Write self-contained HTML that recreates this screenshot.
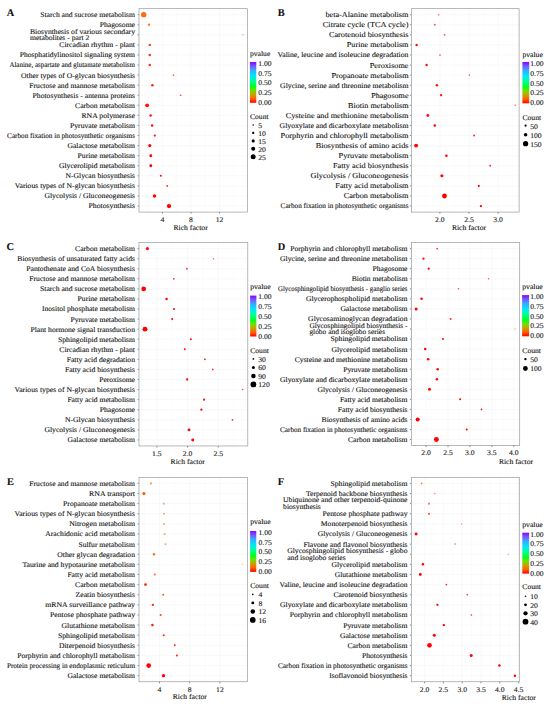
<!DOCTYPE html><html><head><meta charset="utf-8"><style>html,body{margin:0;padding:0;background:#fff;}svg{display:block}text{text-rendering:geometricPrecision;font-family:"Liberation Serif",serif;fill:#111;stroke:#111;stroke-width:0.1px}</style></head><body>
<svg width="550" height="706" viewBox="0 0 550 706">
<defs><linearGradient id="cbar" x1="0" y1="1" x2="0" y2="0"><stop offset="0" stop-color="#ff0000"/><stop offset="0.1" stop-color="#ff6000"/><stop offset="0.2" stop-color="#c8a000"/><stop offset="0.3" stop-color="#70e000"/><stop offset="0.4" stop-color="#00ff20"/><stop offset="0.53" stop-color="#00ff98"/><stop offset="0.66" stop-color="#00e8f8"/><stop offset="0.8" stop-color="#38a8ff"/><stop offset="0.91" stop-color="#7a50ff"/><stop offset="1" stop-color="#8800ff"/></linearGradient></defs>
<rect width="550" height="706" fill="#fff"/>
<text x="6.8" y="16.1" font-size="10.4" font-weight="bold" fill="#000">A</text>
<g stroke="#f2f2f2" stroke-width="0.5"><line x1="139.0" y1="14.70" x2="247.5" y2="14.70"/><line x1="139.0" y1="24.77" x2="247.5" y2="24.77"/><line x1="139.0" y1="34.84" x2="247.5" y2="34.84"/><line x1="139.0" y1="44.91" x2="247.5" y2="44.91"/><line x1="139.0" y1="54.98" x2="247.5" y2="54.98"/><line x1="139.0" y1="65.05" x2="247.5" y2="65.05"/><line x1="139.0" y1="75.12" x2="247.5" y2="75.12"/><line x1="139.0" y1="85.19" x2="247.5" y2="85.19"/><line x1="139.0" y1="95.26" x2="247.5" y2="95.26"/><line x1="139.0" y1="105.33" x2="247.5" y2="105.33"/><line x1="139.0" y1="115.40" x2="247.5" y2="115.40"/><line x1="139.0" y1="125.47" x2="247.5" y2="125.47"/><line x1="139.0" y1="135.54" x2="247.5" y2="135.54"/><line x1="139.0" y1="145.61" x2="247.5" y2="145.61"/><line x1="139.0" y1="155.68" x2="247.5" y2="155.68"/><line x1="139.0" y1="165.75" x2="247.5" y2="165.75"/><line x1="139.0" y1="175.82" x2="247.5" y2="175.82"/><line x1="139.0" y1="185.89" x2="247.5" y2="185.89"/><line x1="139.0" y1="195.96" x2="247.5" y2="195.96"/><line x1="139.0" y1="206.03" x2="247.5" y2="206.03"/><line x1="162.4" y1="8.66" x2="162.4" y2="212.07"/><line x1="191.0" y1="8.66" x2="191.0" y2="212.07"/><line x1="219.6" y1="8.66" x2="219.6" y2="212.07"/></g>
<g stroke="#f8f8f8" stroke-width="0.4"><line x1="148.1" y1="8.66" x2="148.1" y2="212.07"/><line x1="176.7" y1="8.66" x2="176.7" y2="212.07"/><line x1="205.3" y1="8.66" x2="205.3" y2="212.07"/><line x1="233.9" y1="8.66" x2="233.9" y2="212.07"/></g>
<circle cx="143.7" cy="14.70" r="2.65" fill="#ff6a10"/>
<circle cx="149.0" cy="24.77" r="1.15" fill="#ff7a10"/>
<circle cx="242.8" cy="34.84" r="0.95" fill="#ffc0a0"/>
<circle cx="149.8" cy="44.91" r="1.20" fill="#ff3a10"/>
<circle cx="149.8" cy="54.98" r="1.20" fill="#ff2a10"/>
<circle cx="149.8" cy="65.05" r="1.20" fill="#ff2a10"/>
<circle cx="173.5" cy="75.12" r="0.85" fill="#ff5030"/>
<circle cx="152.4" cy="85.19" r="1.25" fill="#ff2010"/>
<circle cx="180.6" cy="95.26" r="0.85" fill="#ff5030"/>
<circle cx="147.1" cy="105.33" r="1.95" fill="#ff1010"/>
<circle cx="150.6" cy="115.40" r="1.25" fill="#ff1010"/>
<circle cx="152.1" cy="125.47" r="1.25" fill="#ff1010"/>
<circle cx="154.8" cy="135.54" r="1.10" fill="#ff1010"/>
<circle cx="149.8" cy="145.61" r="1.55" fill="#ff0000"/>
<circle cx="150.8" cy="155.68" r="1.45" fill="#ff0000"/>
<circle cx="150.8" cy="165.75" r="1.45" fill="#ff0000"/>
<circle cx="160.8" cy="175.82" r="1.00" fill="#ff1010"/>
<circle cx="167.2" cy="185.89" r="0.85" fill="#ff1010"/>
<circle cx="154.5" cy="195.96" r="1.70" fill="#ff0000"/>
<circle cx="169.0" cy="206.03" r="2.15" fill="#ff0000"/>
<rect x="139.0" y="8.66" width="108.50" height="203.41" fill="none" stroke="#9a9a9a" stroke-width="0.7"/>
<g stroke="#444" stroke-width="0.6"><line x1="137.50" y1="14.70" x2="138.70" y2="14.70"/><line x1="137.50" y1="24.77" x2="138.70" y2="24.77"/><line x1="137.50" y1="34.84" x2="138.70" y2="34.84"/><line x1="137.50" y1="44.91" x2="138.70" y2="44.91"/><line x1="137.50" y1="54.98" x2="138.70" y2="54.98"/><line x1="137.50" y1="65.05" x2="138.70" y2="65.05"/><line x1="137.50" y1="75.12" x2="138.70" y2="75.12"/><line x1="137.50" y1="85.19" x2="138.70" y2="85.19"/><line x1="137.50" y1="95.26" x2="138.70" y2="95.26"/><line x1="137.50" y1="105.33" x2="138.70" y2="105.33"/><line x1="137.50" y1="115.40" x2="138.70" y2="115.40"/><line x1="137.50" y1="125.47" x2="138.70" y2="125.47"/><line x1="137.50" y1="135.54" x2="138.70" y2="135.54"/><line x1="137.50" y1="145.61" x2="138.70" y2="145.61"/><line x1="137.50" y1="155.68" x2="138.70" y2="155.68"/><line x1="137.50" y1="165.75" x2="138.70" y2="165.75"/><line x1="137.50" y1="175.82" x2="138.70" y2="175.82"/><line x1="137.50" y1="185.89" x2="138.70" y2="185.89"/><line x1="137.50" y1="195.96" x2="138.70" y2="195.96"/><line x1="137.50" y1="206.03" x2="138.70" y2="206.03"/><line x1="162.4" y1="212.07" x2="162.4" y2="213.67"/><line x1="191.0" y1="212.07" x2="191.0" y2="213.67"/><line x1="219.6" y1="212.07" x2="219.6" y2="213.67"/></g>
<text x="40.20" y="17.12" font-size="7.268" text-anchor="start" textLength="94.80" lengthAdjust="spacingAndGlyphs">Starch and sucrose metabolism</text>
<text x="99.70" y="27.19" font-size="7.268" text-anchor="start" textLength="35.30" lengthAdjust="spacingAndGlyphs">Phagosome</text>
<text x="30.00" y="33.61" font-size="7.268" text-anchor="start" textLength="105.00" lengthAdjust="spacingAndGlyphs">Biosynthesis of various secondary</text>
<text x="30.00" y="40.31" font-size="7.268" text-anchor="start" textLength="59.41" lengthAdjust="spacingAndGlyphs">metabolites - part 2</text>
<text x="59.30" y="47.33" font-size="7.268" text-anchor="start" textLength="75.70" lengthAdjust="spacingAndGlyphs">Circadian rhythm - plant</text>
<text x="19.80" y="57.40" font-size="7.268" text-anchor="start" textLength="115.20" lengthAdjust="spacingAndGlyphs">Phosphatidylinositol signaling system</text>
<text x="9.40" y="67.47" font-size="7.268" text-anchor="start" textLength="125.60" lengthAdjust="spacingAndGlyphs">Alanine, aspartate and glutamate metabolism</text>
<text x="21.10" y="77.54" font-size="7.268" text-anchor="start" textLength="113.90" lengthAdjust="spacingAndGlyphs">Other types of O-glycan biosynthesis</text>
<text x="29.30" y="87.61" font-size="7.268" text-anchor="start" textLength="105.70" lengthAdjust="spacingAndGlyphs">Fructose and mannose metabolism</text>
<text x="32.60" y="97.68" font-size="7.268" text-anchor="start" textLength="102.40" lengthAdjust="spacingAndGlyphs">Photosynthesis - antenna proteins</text>
<text x="75.10" y="107.75" font-size="7.268" text-anchor="start" textLength="59.90" lengthAdjust="spacingAndGlyphs">Carbon metabolism</text>
<text x="81.40" y="117.82" font-size="7.268" text-anchor="start" textLength="53.60" lengthAdjust="spacingAndGlyphs">RNA polymerase</text>
<text x="70.00" y="127.89" font-size="7.268" text-anchor="start" textLength="65.00" lengthAdjust="spacingAndGlyphs">Pyruvate metabolism</text>
<text x="7.10" y="137.96" font-size="7.268" text-anchor="start" textLength="127.90" lengthAdjust="spacingAndGlyphs">Carbon fixation in photosynthetic organisms</text>
<text x="67.40" y="148.03" font-size="7.268" text-anchor="start" textLength="67.60" lengthAdjust="spacingAndGlyphs">Galactose metabolism</text>
<text x="77.60" y="158.10" font-size="7.268" text-anchor="start" textLength="57.40" lengthAdjust="spacingAndGlyphs">Purine metabolism</text>
<text x="59.00" y="168.17" font-size="7.268" text-anchor="start" textLength="76.00" lengthAdjust="spacingAndGlyphs">Glycerolipid metabolism</text>
<text x="65.60" y="178.24" font-size="7.268" text-anchor="start" textLength="69.40" lengthAdjust="spacingAndGlyphs">N-Glycan biosynthesis</text>
<text x="14.80" y="188.31" font-size="7.268" text-anchor="start" textLength="120.20" lengthAdjust="spacingAndGlyphs">Various types of N-glycan biosynthesis</text>
<text x="44.50" y="198.38" font-size="7.268" text-anchor="start" textLength="90.50" lengthAdjust="spacingAndGlyphs">Glycolysis / Gluconeogenesis</text>
<text x="88.50" y="208.45" font-size="7.268" text-anchor="start" textLength="46.50" lengthAdjust="spacingAndGlyphs">Photosynthesis</text>
<text x="162.40" y="222.12" font-size="7.268" text-anchor="middle" textLength="3.83" lengthAdjust="spacingAndGlyphs">4</text>
<text x="191.00" y="222.12" font-size="7.268" text-anchor="middle" textLength="3.83" lengthAdjust="spacingAndGlyphs">8</text>
<text x="219.60" y="222.12" font-size="7.268" text-anchor="middle" textLength="7.65" lengthAdjust="spacingAndGlyphs">12</text>
<text x="190.60" y="229.82" font-size="7.268" text-anchor="middle" textLength="34.20" lengthAdjust="spacingAndGlyphs">Rich factor</text>
<text x="249.90" y="56.22" font-size="7.268" text-anchor="start" textLength="20.39" lengthAdjust="spacingAndGlyphs">pvalue</text>
<rect x="249.9" y="62.0" width="6.40" height="40.80" fill="url(#cbar)"/>
<text x="258.20" y="104.82" font-size="7.268" text-anchor="start" textLength="13.39" lengthAdjust="spacingAndGlyphs">0.00</text>
<text x="258.20" y="95.07" font-size="7.268" text-anchor="start" textLength="13.39" lengthAdjust="spacingAndGlyphs">0.25</text>
<text x="258.20" y="85.32" font-size="7.268" text-anchor="start" textLength="13.39" lengthAdjust="spacingAndGlyphs">0.50</text>
<text x="258.20" y="75.57" font-size="7.268" text-anchor="start" textLength="13.39" lengthAdjust="spacingAndGlyphs">0.75</text>
<text x="258.20" y="65.82" font-size="7.268" text-anchor="start" textLength="13.39" lengthAdjust="spacingAndGlyphs">1.00</text>
<text x="249.90" y="119.42" font-size="7.268" text-anchor="start" textLength="18.70" lengthAdjust="spacingAndGlyphs">Count</text>
<circle cx="253.2" cy="124.9" r="0.75" fill="#000"/>
<text x="258.20" y="127.82" font-size="7.268" text-anchor="start" textLength="3.83" lengthAdjust="spacingAndGlyphs">5</text>
<circle cx="253.2" cy="132.9" r="1.15" fill="#000"/>
<text x="258.20" y="135.82" font-size="7.268" text-anchor="start" textLength="7.65" lengthAdjust="spacingAndGlyphs">10</text>
<circle cx="253.2" cy="140.9" r="1.55" fill="#000"/>
<text x="258.20" y="143.82" font-size="7.268" text-anchor="start" textLength="7.65" lengthAdjust="spacingAndGlyphs">15</text>
<circle cx="253.2" cy="148.8" r="2.00" fill="#000"/>
<text x="258.20" y="151.72" font-size="7.268" text-anchor="start" textLength="7.65" lengthAdjust="spacingAndGlyphs">20</text>
<circle cx="253.2" cy="156.8" r="2.50" fill="#000"/>
<text x="258.20" y="159.72" font-size="7.268" text-anchor="start" textLength="7.65" lengthAdjust="spacingAndGlyphs">25</text>
<text x="277.7" y="15.9" font-size="10.4" font-weight="bold" fill="#000">B</text>
<g stroke="#f2f2f2" stroke-width="0.5"><line x1="411.4" y1="14.70" x2="519.1" y2="14.70"/><line x1="411.4" y1="24.77" x2="519.1" y2="24.77"/><line x1="411.4" y1="34.84" x2="519.1" y2="34.84"/><line x1="411.4" y1="44.91" x2="519.1" y2="44.91"/><line x1="411.4" y1="54.98" x2="519.1" y2="54.98"/><line x1="411.4" y1="65.05" x2="519.1" y2="65.05"/><line x1="411.4" y1="75.12" x2="519.1" y2="75.12"/><line x1="411.4" y1="85.19" x2="519.1" y2="85.19"/><line x1="411.4" y1="95.26" x2="519.1" y2="95.26"/><line x1="411.4" y1="105.33" x2="519.1" y2="105.33"/><line x1="411.4" y1="115.40" x2="519.1" y2="115.40"/><line x1="411.4" y1="125.47" x2="519.1" y2="125.47"/><line x1="411.4" y1="135.54" x2="519.1" y2="135.54"/><line x1="411.4" y1="145.61" x2="519.1" y2="145.61"/><line x1="411.4" y1="155.68" x2="519.1" y2="155.68"/><line x1="411.4" y1="165.75" x2="519.1" y2="165.75"/><line x1="411.4" y1="175.82" x2="519.1" y2="175.82"/><line x1="411.4" y1="185.89" x2="519.1" y2="185.89"/><line x1="411.4" y1="195.96" x2="519.1" y2="195.96"/><line x1="411.4" y1="206.03" x2="519.1" y2="206.03"/><line x1="439.9" y1="8.66" x2="439.9" y2="212.07"/><line x1="469.0" y1="8.66" x2="469.0" y2="212.07"/><line x1="498.1" y1="8.66" x2="498.1" y2="212.07"/></g>
<g stroke="#f8f8f8" stroke-width="0.4"><line x1="425.35" y1="8.66" x2="425.35" y2="212.07"/><line x1="454.45" y1="8.66" x2="454.45" y2="212.07"/><line x1="483.55" y1="8.66" x2="483.55" y2="212.07"/><line x1="512.65" y1="8.66" x2="512.65" y2="212.07"/></g>
<circle cx="438.7" cy="14.70" r="0.85" fill="#ff8080"/>
<circle cx="434.8" cy="24.77" r="0.90" fill="#ff5050"/>
<circle cx="444.5" cy="34.84" r="0.90" fill="#ff5050"/>
<circle cx="416.6" cy="44.91" r="1.25" fill="#ff1010"/>
<circle cx="440.0" cy="54.98" r="0.85" fill="#ff5050"/>
<circle cx="426.6" cy="65.05" r="1.20" fill="#ff1010"/>
<circle cx="469.3" cy="75.12" r="0.80" fill="#ff5050"/>
<circle cx="436.9" cy="85.19" r="1.25" fill="#ff1010"/>
<circle cx="441.1" cy="95.26" r="1.15" fill="#ff1010"/>
<circle cx="515.2" cy="105.33" r="0.75" fill="#ff6060"/>
<circle cx="427.8" cy="115.40" r="1.40" fill="#ff0000"/>
<circle cx="434.8" cy="125.47" r="1.25" fill="#ff0000"/>
<circle cx="474.1" cy="135.54" r="0.95" fill="#ff2020"/>
<circle cx="416.1" cy="145.61" r="1.95" fill="#ff0000"/>
<circle cx="446.4" cy="155.68" r="1.25" fill="#ff0000"/>
<circle cx="490.2" cy="165.75" r="0.90" fill="#ff2020"/>
<circle cx="441.9" cy="175.82" r="1.55" fill="#ff0000"/>
<circle cx="478.8" cy="185.89" r="1.05" fill="#ff0000"/>
<circle cx="444.5" cy="195.96" r="2.45" fill="#ff0000"/>
<circle cx="480.9" cy="206.03" r="1.15" fill="#ff0000"/>
<rect x="411.4" y="8.66" width="107.70" height="203.41" fill="none" stroke="#9a9a9a" stroke-width="0.7"/>
<g stroke="#444" stroke-width="0.6"><line x1="409.90" y1="14.70" x2="411.10" y2="14.70"/><line x1="409.90" y1="24.77" x2="411.10" y2="24.77"/><line x1="409.90" y1="34.84" x2="411.10" y2="34.84"/><line x1="409.90" y1="44.91" x2="411.10" y2="44.91"/><line x1="409.90" y1="54.98" x2="411.10" y2="54.98"/><line x1="409.90" y1="65.05" x2="411.10" y2="65.05"/><line x1="409.90" y1="75.12" x2="411.10" y2="75.12"/><line x1="409.90" y1="85.19" x2="411.10" y2="85.19"/><line x1="409.90" y1="95.26" x2="411.10" y2="95.26"/><line x1="409.90" y1="105.33" x2="411.10" y2="105.33"/><line x1="409.90" y1="115.40" x2="411.10" y2="115.40"/><line x1="409.90" y1="125.47" x2="411.10" y2="125.47"/><line x1="409.90" y1="135.54" x2="411.10" y2="135.54"/><line x1="409.90" y1="145.61" x2="411.10" y2="145.61"/><line x1="409.90" y1="155.68" x2="411.10" y2="155.68"/><line x1="409.90" y1="165.75" x2="411.10" y2="165.75"/><line x1="409.90" y1="175.82" x2="411.10" y2="175.82"/><line x1="409.90" y1="185.89" x2="411.10" y2="185.89"/><line x1="409.90" y1="195.96" x2="411.10" y2="195.96"/><line x1="409.90" y1="206.03" x2="411.10" y2="206.03"/><line x1="439.9" y1="212.07" x2="439.9" y2="213.67"/><line x1="469.0" y1="212.07" x2="469.0" y2="213.67"/><line x1="498.1" y1="212.07" x2="498.1" y2="213.67"/></g>
<text x="325.40" y="17.22" font-size="7.550" text-anchor="start" textLength="83.10" lengthAdjust="spacingAndGlyphs">beta-Alanine metabolism</text>
<text x="322.80" y="27.30" font-size="7.586" text-anchor="start" textLength="85.70" lengthAdjust="spacingAndGlyphs">Citrate cycle (TCA cycle)</text>
<text x="328.90" y="37.36" font-size="7.557" text-anchor="start" textLength="79.60" lengthAdjust="spacingAndGlyphs">Carotenoid biosynthesis</text>
<text x="346.80" y="47.42" font-size="7.527" text-anchor="start" textLength="61.70" lengthAdjust="spacingAndGlyphs">Purine metabolism</text>
<text x="277.50" y="57.40" font-size="7.268" text-anchor="start" textLength="131.00" lengthAdjust="spacingAndGlyphs">Valine, leucine and isoleucine degradation</text>
<text x="369.70" y="67.56" font-size="7.537" text-anchor="start" textLength="38.80" lengthAdjust="spacingAndGlyphs">Peroxisome</text>
<text x="331.50" y="77.63" font-size="7.519" text-anchor="start" textLength="77.00" lengthAdjust="spacingAndGlyphs">Propanoate metabolism</text>
<text x="280.10" y="87.61" font-size="7.268" text-anchor="start" textLength="128.40" lengthAdjust="spacingAndGlyphs">Glycine, serine and threonine metabolism</text>
<text x="371.20" y="97.75" font-size="7.476" text-anchor="start" textLength="37.30" lengthAdjust="spacingAndGlyphs">Phagosome</text>
<text x="348.00" y="107.83" font-size="7.509" text-anchor="start" textLength="60.50" lengthAdjust="spacingAndGlyphs">Biotin metabolism</text>
<text x="285.70" y="117.92" font-size="7.559" text-anchor="start" textLength="122.80" lengthAdjust="spacingAndGlyphs">Cysteine and methionine metabolism</text>
<text x="279.60" y="127.89" font-size="7.268" text-anchor="start" textLength="128.90" lengthAdjust="spacingAndGlyphs">Glyoxylate and dicarboxylate metabolism</text>
<text x="280.60" y="138.06" font-size="7.561" text-anchor="start" textLength="127.90" lengthAdjust="spacingAndGlyphs">Porphyrin and chlorophyll metabolism</text>
<text x="315.70" y="148.13" font-size="7.552" text-anchor="start" textLength="92.80" lengthAdjust="spacingAndGlyphs">Biosynthesis of amino acids</text>
<text x="338.60" y="158.20" font-size="7.553" text-anchor="start" textLength="69.90" lengthAdjust="spacingAndGlyphs">Pyruvate metabolism</text>
<text x="333.00" y="168.27" font-size="7.546" text-anchor="start" textLength="75.50" lengthAdjust="spacingAndGlyphs">Fatty acid biosynthesis</text>
<text x="310.60" y="178.33" font-size="7.546" text-anchor="start" textLength="97.90" lengthAdjust="spacingAndGlyphs">Glycolysis / Gluconeogenesis</text>
<text x="335.30" y="188.41" font-size="7.546" text-anchor="start" textLength="73.20" lengthAdjust="spacingAndGlyphs">Fatty acid metabolism</text>
<text x="343.70" y="198.48" font-size="7.550" text-anchor="start" textLength="64.80" lengthAdjust="spacingAndGlyphs">Carbon metabolism</text>
<text x="280.60" y="208.45" font-size="7.268" text-anchor="start" textLength="127.90" lengthAdjust="spacingAndGlyphs">Carbon fixation in photosynthetic organisms</text>
<text x="439.90" y="222.02" font-size="7.268" text-anchor="middle" textLength="9.56" lengthAdjust="spacingAndGlyphs">2.0</text>
<text x="469.00" y="222.02" font-size="7.268" text-anchor="middle" textLength="9.56" lengthAdjust="spacingAndGlyphs">2.5</text>
<text x="498.10" y="222.02" font-size="7.268" text-anchor="middle" textLength="9.56" lengthAdjust="spacingAndGlyphs">3.0</text>
<text x="469.00" y="229.92" font-size="7.268" text-anchor="middle" textLength="34.20" lengthAdjust="spacingAndGlyphs">Rich factor</text>
<text x="522.40" y="56.52" font-size="7.268" text-anchor="start" textLength="20.39" lengthAdjust="spacingAndGlyphs">pvalue</text>
<rect x="522.4" y="62.0" width="6.80" height="41.30" fill="url(#cbar)"/>
<text x="530.20" y="105.32" font-size="7.268" text-anchor="start" textLength="13.39" lengthAdjust="spacingAndGlyphs">0.00</text>
<text x="530.20" y="95.45" font-size="7.268" text-anchor="start" textLength="13.39" lengthAdjust="spacingAndGlyphs">0.25</text>
<text x="530.20" y="85.57" font-size="7.268" text-anchor="start" textLength="13.39" lengthAdjust="spacingAndGlyphs">0.50</text>
<text x="530.20" y="75.70" font-size="7.268" text-anchor="start" textLength="13.39" lengthAdjust="spacingAndGlyphs">0.75</text>
<text x="530.20" y="65.82" font-size="7.268" text-anchor="start" textLength="13.39" lengthAdjust="spacingAndGlyphs">1.00</text>
<text x="522.40" y="119.82" font-size="7.268" text-anchor="start" textLength="18.70" lengthAdjust="spacingAndGlyphs">Count</text>
<circle cx="525.6" cy="125.6" r="1.10" fill="#000"/>
<text x="530.20" y="128.52" font-size="7.268" text-anchor="start" textLength="7.65" lengthAdjust="spacingAndGlyphs">50</text>
<circle cx="525.6" cy="134.7" r="1.80" fill="#000"/>
<text x="530.20" y="137.62" font-size="7.268" text-anchor="start" textLength="11.47" lengthAdjust="spacingAndGlyphs">100</text>
<circle cx="525.6" cy="143.7" r="2.65" fill="#000"/>
<text x="530.20" y="146.62" font-size="7.268" text-anchor="start" textLength="11.47" lengthAdjust="spacingAndGlyphs">150</text>
<text x="6.6" y="249.9" font-size="10.4" font-weight="bold" fill="#000">C</text>
<g stroke="#f2f2f2" stroke-width="0.5"><line x1="139.0" y1="248.60" x2="247.8" y2="248.60"/><line x1="139.0" y1="258.67" x2="247.8" y2="258.67"/><line x1="139.0" y1="268.74" x2="247.8" y2="268.74"/><line x1="139.0" y1="278.81" x2="247.8" y2="278.81"/><line x1="139.0" y1="288.88" x2="247.8" y2="288.88"/><line x1="139.0" y1="298.95" x2="247.8" y2="298.95"/><line x1="139.0" y1="309.02" x2="247.8" y2="309.02"/><line x1="139.0" y1="319.09" x2="247.8" y2="319.09"/><line x1="139.0" y1="329.16" x2="247.8" y2="329.16"/><line x1="139.0" y1="339.23" x2="247.8" y2="339.23"/><line x1="139.0" y1="349.30" x2="247.8" y2="349.30"/><line x1="139.0" y1="359.37" x2="247.8" y2="359.37"/><line x1="139.0" y1="369.44" x2="247.8" y2="369.44"/><line x1="139.0" y1="379.51" x2="247.8" y2="379.51"/><line x1="139.0" y1="389.58" x2="247.8" y2="389.58"/><line x1="139.0" y1="399.65" x2="247.8" y2="399.65"/><line x1="139.0" y1="409.72" x2="247.8" y2="409.72"/><line x1="139.0" y1="419.79" x2="247.8" y2="419.79"/><line x1="139.0" y1="429.86" x2="247.8" y2="429.86"/><line x1="139.0" y1="439.93" x2="247.8" y2="439.93"/><line x1="156.9" y1="242.56" x2="156.9" y2="445.97"/><line x1="187.6" y1="242.56" x2="187.6" y2="445.97"/><line x1="218.2" y1="242.56" x2="218.2" y2="445.97"/></g>
<g stroke="#f8f8f8" stroke-width="0.4"><line x1="141.6" y1="242.56" x2="141.6" y2="445.97"/><line x1="172.25" y1="242.56" x2="172.25" y2="445.97"/><line x1="202.9" y1="242.56" x2="202.9" y2="445.97"/><line x1="233.5" y1="242.56" x2="233.5" y2="445.97"/></g>
<circle cx="147.4" cy="248.60" r="1.65" fill="#ff1010"/>
<circle cx="213.3" cy="258.67" r="0.75" fill="#ff6060"/>
<circle cx="186.9" cy="268.74" r="0.90" fill="#ff3030"/>
<circle cx="173.8" cy="278.81" r="0.90" fill="#ff3030"/>
<circle cx="143.7" cy="288.88" r="2.35" fill="#ff0000"/>
<circle cx="166.6" cy="298.95" r="1.20" fill="#ff0000"/>
<circle cx="174.0" cy="309.02" r="1.05" fill="#ff1010"/>
<circle cx="172.2" cy="319.09" r="1.05" fill="#ff1010"/>
<circle cx="145.0" cy="329.16" r="2.45" fill="#ff0000"/>
<circle cx="190.9" cy="339.23" r="1.00" fill="#ff1010"/>
<circle cx="184.8" cy="349.30" r="1.00" fill="#ff1010"/>
<circle cx="204.9" cy="359.37" r="0.90" fill="#ff1010"/>
<circle cx="212.8" cy="369.44" r="0.85" fill="#ff2020"/>
<circle cx="187.2" cy="379.51" r="1.15" fill="#ff0000"/>
<circle cx="242.6" cy="389.58" r="0.75" fill="#ff4040"/>
<circle cx="204.1" cy="399.65" r="1.05" fill="#ff0000"/>
<circle cx="201.4" cy="409.72" r="1.10" fill="#ff0000"/>
<circle cx="232.5" cy="419.79" r="0.85" fill="#ff2020"/>
<circle cx="189.0" cy="429.86" r="1.45" fill="#ff0000"/>
<circle cx="192.7" cy="439.93" r="1.45" fill="#ff0000"/>
<rect x="139.0" y="242.56" width="108.80" height="203.41" fill="none" stroke="#9a9a9a" stroke-width="0.7"/>
<g stroke="#444" stroke-width="0.6"><line x1="137.50" y1="248.60" x2="138.70" y2="248.60"/><line x1="137.50" y1="258.67" x2="138.70" y2="258.67"/><line x1="137.50" y1="268.74" x2="138.70" y2="268.74"/><line x1="137.50" y1="278.81" x2="138.70" y2="278.81"/><line x1="137.50" y1="288.88" x2="138.70" y2="288.88"/><line x1="137.50" y1="298.95" x2="138.70" y2="298.95"/><line x1="137.50" y1="309.02" x2="138.70" y2="309.02"/><line x1="137.50" y1="319.09" x2="138.70" y2="319.09"/><line x1="137.50" y1="329.16" x2="138.70" y2="329.16"/><line x1="137.50" y1="339.23" x2="138.70" y2="339.23"/><line x1="137.50" y1="349.30" x2="138.70" y2="349.30"/><line x1="137.50" y1="359.37" x2="138.70" y2="359.37"/><line x1="137.50" y1="369.44" x2="138.70" y2="369.44"/><line x1="137.50" y1="379.51" x2="138.70" y2="379.51"/><line x1="137.50" y1="389.58" x2="138.70" y2="389.58"/><line x1="137.50" y1="399.65" x2="138.70" y2="399.65"/><line x1="137.50" y1="409.72" x2="138.70" y2="409.72"/><line x1="137.50" y1="419.79" x2="138.70" y2="419.79"/><line x1="137.50" y1="429.86" x2="138.70" y2="429.86"/><line x1="137.50" y1="439.93" x2="138.70" y2="439.93"/><line x1="156.9" y1="445.97" x2="156.9" y2="447.57"/><line x1="187.6" y1="445.97" x2="187.6" y2="447.57"/><line x1="218.2" y1="445.97" x2="218.2" y2="447.57"/></g>
<text x="75.10" y="251.02" font-size="7.268" text-anchor="start" textLength="59.90" lengthAdjust="spacingAndGlyphs">Carbon metabolism</text>
<text x="17.30" y="261.09" font-size="7.268" text-anchor="start" textLength="117.70" lengthAdjust="spacingAndGlyphs">Biosynthesis of unsaturated fatty acids</text>
<text x="26.20" y="271.16" font-size="7.268" text-anchor="start" textLength="108.80" lengthAdjust="spacingAndGlyphs">Pantothenate and CoA biosynthesis</text>
<text x="29.30" y="281.23" font-size="7.268" text-anchor="start" textLength="105.70" lengthAdjust="spacingAndGlyphs">Fructose and mannose metabolism</text>
<text x="40.00" y="291.30" font-size="7.268" text-anchor="start" textLength="95.00" lengthAdjust="spacingAndGlyphs">Starch and sucrose metabolism</text>
<text x="77.60" y="301.37" font-size="7.268" text-anchor="start" textLength="57.40" lengthAdjust="spacingAndGlyphs">Purine metabolism</text>
<text x="42.00" y="311.44" font-size="7.268" text-anchor="start" textLength="93.00" lengthAdjust="spacingAndGlyphs">Inositol phosphate metabolism</text>
<text x="70.50" y="321.51" font-size="7.268" text-anchor="start" textLength="64.50" lengthAdjust="spacingAndGlyphs">Pyruvate metabolism</text>
<text x="30.50" y="331.58" font-size="7.268" text-anchor="start" textLength="104.50" lengthAdjust="spacingAndGlyphs">Plant hormone signal transduction</text>
<text x="58.00" y="341.65" font-size="7.268" text-anchor="start" textLength="77.00" lengthAdjust="spacingAndGlyphs">Sphingolipid metabolism</text>
<text x="59.30" y="351.72" font-size="7.268" text-anchor="start" textLength="75.70" lengthAdjust="spacingAndGlyphs">Circadian rhythm - plant</text>
<text x="66.70" y="361.79" font-size="7.268" text-anchor="start" textLength="68.30" lengthAdjust="spacingAndGlyphs">Fatty acid degradation</text>
<text x="64.90" y="371.86" font-size="7.268" text-anchor="start" textLength="70.10" lengthAdjust="spacingAndGlyphs">Fatty acid biosynthesis</text>
<text x="99.20" y="381.93" font-size="7.268" text-anchor="start" textLength="35.80" lengthAdjust="spacingAndGlyphs">Peroxisome</text>
<text x="14.50" y="392.00" font-size="7.268" text-anchor="start" textLength="120.50" lengthAdjust="spacingAndGlyphs">Various types of N-glycan biosynthesis</text>
<text x="67.40" y="402.07" font-size="7.268" text-anchor="start" textLength="67.60" lengthAdjust="spacingAndGlyphs">Fatty acid metabolism</text>
<text x="99.70" y="412.14" font-size="7.268" text-anchor="start" textLength="35.30" lengthAdjust="spacingAndGlyphs">Phagosome</text>
<text x="64.90" y="422.21" font-size="7.268" text-anchor="start" textLength="70.10" lengthAdjust="spacingAndGlyphs">N-Glycan biosynthesis</text>
<text x="44.50" y="432.28" font-size="7.268" text-anchor="start" textLength="90.50" lengthAdjust="spacingAndGlyphs">Glycolysis / Gluconeogenesis</text>
<text x="67.40" y="442.35" font-size="7.268" text-anchor="start" textLength="67.60" lengthAdjust="spacingAndGlyphs">Galactose metabolism</text>
<text x="156.90" y="455.72" font-size="7.268" text-anchor="middle" textLength="9.56" lengthAdjust="spacingAndGlyphs">1.5</text>
<text x="187.60" y="455.72" font-size="7.268" text-anchor="middle" textLength="9.56" lengthAdjust="spacingAndGlyphs">2.0</text>
<text x="218.20" y="455.72" font-size="7.268" text-anchor="middle" textLength="9.56" lengthAdjust="spacingAndGlyphs">2.5</text>
<text x="187.70" y="463.92" font-size="7.268" text-anchor="middle" textLength="34.20" lengthAdjust="spacingAndGlyphs">Rich factor</text>
<text x="250.20" y="289.22" font-size="7.268" text-anchor="start" textLength="20.39" lengthAdjust="spacingAndGlyphs">pvalue</text>
<rect x="250.1" y="295.6" width="6.30" height="40.90" fill="url(#cbar)"/>
<text x="258.30" y="338.52" font-size="7.268" text-anchor="start" textLength="13.39" lengthAdjust="spacingAndGlyphs">0.00</text>
<text x="258.30" y="328.75" font-size="7.268" text-anchor="start" textLength="13.39" lengthAdjust="spacingAndGlyphs">0.25</text>
<text x="258.30" y="318.97" font-size="7.268" text-anchor="start" textLength="13.39" lengthAdjust="spacingAndGlyphs">0.50</text>
<text x="258.30" y="309.20" font-size="7.268" text-anchor="start" textLength="13.39" lengthAdjust="spacingAndGlyphs">0.75</text>
<text x="258.30" y="299.42" font-size="7.268" text-anchor="start" textLength="13.39" lengthAdjust="spacingAndGlyphs">1.00</text>
<text x="250.20" y="352.62" font-size="7.268" text-anchor="start" textLength="18.70" lengthAdjust="spacingAndGlyphs">Count</text>
<circle cx="253.4" cy="358.9" r="0.85" fill="#000"/>
<text x="258.30" y="361.82" font-size="7.268" text-anchor="start" textLength="7.65" lengthAdjust="spacingAndGlyphs">30</text>
<circle cx="253.4" cy="367.5" r="1.50" fill="#000"/>
<text x="258.30" y="370.42" font-size="7.268" text-anchor="start" textLength="7.65" lengthAdjust="spacingAndGlyphs">60</text>
<circle cx="253.4" cy="375.9" r="2.25" fill="#000"/>
<text x="258.30" y="378.82" font-size="7.268" text-anchor="start" textLength="7.65" lengthAdjust="spacingAndGlyphs">90</text>
<circle cx="253.4" cy="384.4" r="2.90" fill="#000"/>
<text x="258.30" y="387.32" font-size="7.268" text-anchor="start" textLength="11.47" lengthAdjust="spacingAndGlyphs">120</text>
<text x="277.7" y="249.7" font-size="10.4" font-weight="bold" fill="#000">D</text>
<g stroke="#f2f2f2" stroke-width="0.5"><line x1="411.4" y1="248.60" x2="519.7" y2="248.60"/><line x1="411.4" y1="258.65" x2="519.7" y2="258.65"/><line x1="411.4" y1="268.70" x2="519.7" y2="268.70"/><line x1="411.4" y1="278.75" x2="519.7" y2="278.75"/><line x1="411.4" y1="288.80" x2="519.7" y2="288.80"/><line x1="411.4" y1="298.85" x2="519.7" y2="298.85"/><line x1="411.4" y1="308.90" x2="519.7" y2="308.90"/><line x1="411.4" y1="318.95" x2="519.7" y2="318.95"/><line x1="411.4" y1="329.00" x2="519.7" y2="329.00"/><line x1="411.4" y1="339.05" x2="519.7" y2="339.05"/><line x1="411.4" y1="349.10" x2="519.7" y2="349.10"/><line x1="411.4" y1="359.15" x2="519.7" y2="359.15"/><line x1="411.4" y1="369.20" x2="519.7" y2="369.20"/><line x1="411.4" y1="379.25" x2="519.7" y2="379.25"/><line x1="411.4" y1="389.30" x2="519.7" y2="389.30"/><line x1="411.4" y1="399.35" x2="519.7" y2="399.35"/><line x1="411.4" y1="409.40" x2="519.7" y2="409.40"/><line x1="411.4" y1="419.45" x2="519.7" y2="419.45"/><line x1="411.4" y1="429.50" x2="519.7" y2="429.50"/><line x1="411.4" y1="439.55" x2="519.7" y2="439.55"/><line x1="426.1" y1="242.57" x2="426.1" y2="445.58"/><line x1="448.0" y1="242.57" x2="448.0" y2="445.58"/><line x1="469.9" y1="242.57" x2="469.9" y2="445.58"/><line x1="491.9" y1="242.57" x2="491.9" y2="445.58"/><line x1="513.8" y1="242.57" x2="513.8" y2="445.58"/></g>
<g stroke="#f8f8f8" stroke-width="0.4"><line x1="415.1" y1="242.57" x2="415.1" y2="445.58"/><line x1="437.0" y1="242.57" x2="437.0" y2="445.58"/><line x1="458.9" y1="242.57" x2="458.9" y2="445.58"/><line x1="480.9" y1="242.57" x2="480.9" y2="445.58"/><line x1="502.8" y1="242.57" x2="502.8" y2="445.58"/></g>
<circle cx="437.2" cy="248.60" r="0.90" fill="#ff3030"/>
<circle cx="423.5" cy="258.65" r="1.15" fill="#ff1010"/>
<circle cx="428.7" cy="268.70" r="1.15" fill="#ff1010"/>
<circle cx="488.6" cy="278.75" r="0.80" fill="#ff5050"/>
<circle cx="458.5" cy="288.80" r="0.80" fill="#ff4040"/>
<circle cx="421.6" cy="298.85" r="1.25" fill="#ff0000"/>
<circle cx="416.1" cy="308.90" r="1.50" fill="#ff0000"/>
<circle cx="450.6" cy="318.95" r="1.00" fill="#ff3030"/>
<circle cx="514.9" cy="329.00" r="0.80" fill="#ffb090"/>
<circle cx="443.0" cy="339.05" r="1.05" fill="#ff1010"/>
<circle cx="425.2" cy="349.10" r="1.25" fill="#ff0000"/>
<circle cx="428.2" cy="359.15" r="1.25" fill="#ff0000"/>
<circle cx="437.7" cy="369.20" r="1.20" fill="#ff0000"/>
<circle cx="436.9" cy="379.25" r="1.20" fill="#ff0000"/>
<circle cx="429.5" cy="389.30" r="1.50" fill="#ff0000"/>
<circle cx="460.1" cy="399.35" r="1.00" fill="#ff0000"/>
<circle cx="481.5" cy="409.40" r="0.85" fill="#ff1010"/>
<circle cx="417.7" cy="419.45" r="2.05" fill="#ff0000"/>
<circle cx="466.7" cy="429.50" r="1.00" fill="#ff0000"/>
<circle cx="436.4" cy="439.55" r="2.45" fill="#ff0000"/>
<rect x="411.4" y="242.57" width="108.30" height="203.01" fill="none" stroke="#9a9a9a" stroke-width="0.7"/>
<g stroke="#444" stroke-width="0.6"><line x1="409.90" y1="248.60" x2="411.10" y2="248.60"/><line x1="409.90" y1="258.65" x2="411.10" y2="258.65"/><line x1="409.90" y1="268.70" x2="411.10" y2="268.70"/><line x1="409.90" y1="278.75" x2="411.10" y2="278.75"/><line x1="409.90" y1="288.80" x2="411.10" y2="288.80"/><line x1="409.90" y1="298.85" x2="411.10" y2="298.85"/><line x1="409.90" y1="308.90" x2="411.10" y2="308.90"/><line x1="409.90" y1="318.95" x2="411.10" y2="318.95"/><line x1="409.90" y1="329.00" x2="411.10" y2="329.00"/><line x1="409.90" y1="339.05" x2="411.10" y2="339.05"/><line x1="409.90" y1="349.10" x2="411.10" y2="349.10"/><line x1="409.90" y1="359.15" x2="411.10" y2="359.15"/><line x1="409.90" y1="369.20" x2="411.10" y2="369.20"/><line x1="409.90" y1="379.25" x2="411.10" y2="379.25"/><line x1="409.90" y1="389.30" x2="411.10" y2="389.30"/><line x1="409.90" y1="399.35" x2="411.10" y2="399.35"/><line x1="409.90" y1="409.40" x2="411.10" y2="409.40"/><line x1="409.90" y1="419.45" x2="411.10" y2="419.45"/><line x1="409.90" y1="429.50" x2="411.10" y2="429.50"/><line x1="409.90" y1="439.55" x2="411.10" y2="439.55"/><line x1="426.1" y1="445.58" x2="426.1" y2="447.18"/><line x1="448.0" y1="445.58" x2="448.0" y2="447.18"/><line x1="469.9" y1="445.58" x2="469.9" y2="447.18"/><line x1="491.9" y1="445.58" x2="491.9" y2="447.18"/><line x1="513.8" y1="445.58" x2="513.8" y2="447.18"/></g>
<text x="290.30" y="251.02" font-size="7.268" text-anchor="start" textLength="117.20" lengthAdjust="spacingAndGlyphs">Porphyrin and chlorophyll metabolism</text>
<text x="280.10" y="261.07" font-size="7.268" text-anchor="start" textLength="127.40" lengthAdjust="spacingAndGlyphs">Glycine, serine and threonine metabolism</text>
<text x="372.50" y="271.12" font-size="7.268" text-anchor="start" textLength="35.00" lengthAdjust="spacingAndGlyphs">Phagosome</text>
<text x="351.80" y="281.17" font-size="7.268" text-anchor="start" textLength="55.70" lengthAdjust="spacingAndGlyphs">Biotin metabolism</text>
<text x="278.00" y="291.22" font-size="7.268" text-anchor="start" textLength="129.50" lengthAdjust="spacingAndGlyphs">Glycosphingolipid biosynthesis - ganglio series</text>
<text x="306.00" y="301.27" font-size="7.268" text-anchor="start" textLength="101.50" lengthAdjust="spacingAndGlyphs">Glycerophospholipid metabolism</text>
<text x="340.40" y="311.32" font-size="7.268" text-anchor="start" textLength="67.10" lengthAdjust="spacingAndGlyphs">Galactose metabolism</text>
<text x="308.10" y="321.37" font-size="7.268" text-anchor="start" textLength="99.40" lengthAdjust="spacingAndGlyphs">Glycosaminoglycan degradation</text>
<text x="309.40" y="327.77" font-size="7.268" text-anchor="start" textLength="98.10" lengthAdjust="spacingAndGlyphs">Glycosphingolipid biosynthesis -</text>
<text x="309.40" y="334.47" font-size="7.268" text-anchor="start" textLength="75.63" lengthAdjust="spacingAndGlyphs">globo and isoglobo series</text>
<text x="330.50" y="341.47" font-size="7.268" text-anchor="start" textLength="77.00" lengthAdjust="spacingAndGlyphs">Sphingolipid metabolism</text>
<text x="331.50" y="351.52" font-size="7.268" text-anchor="start" textLength="76.00" lengthAdjust="spacingAndGlyphs">Glycerolipid metabolism</text>
<text x="294.80" y="361.57" font-size="7.268" text-anchor="start" textLength="112.70" lengthAdjust="spacingAndGlyphs">Cysteine and methionine metabolism</text>
<text x="343.20" y="371.62" font-size="7.268" text-anchor="start" textLength="64.30" lengthAdjust="spacingAndGlyphs">Pyruvate metabolism</text>
<text x="280.10" y="381.67" font-size="7.268" text-anchor="start" textLength="127.40" lengthAdjust="spacingAndGlyphs">Glyoxylate and dicarboxylate metabolism</text>
<text x="317.50" y="391.72" font-size="7.268" text-anchor="start" textLength="90.00" lengthAdjust="spacingAndGlyphs">Glycolysis / Gluconeogenesis</text>
<text x="339.90" y="401.77" font-size="7.268" text-anchor="start" textLength="67.60" lengthAdjust="spacingAndGlyphs">Fatty acid metabolism</text>
<text x="337.80" y="411.82" font-size="7.268" text-anchor="start" textLength="69.70" lengthAdjust="spacingAndGlyphs">Fatty acid biosynthesis</text>
<text x="321.60" y="421.87" font-size="7.268" text-anchor="start" textLength="85.90" lengthAdjust="spacingAndGlyphs">Biosynthesis of amino acids</text>
<text x="280.10" y="431.92" font-size="7.268" text-anchor="start" textLength="127.40" lengthAdjust="spacingAndGlyphs">Carbon fixation in photosynthetic organisms</text>
<text x="348.00" y="441.97" font-size="7.268" text-anchor="start" textLength="59.50" lengthAdjust="spacingAndGlyphs">Carbon metabolism</text>
<text x="426.10" y="455.32" font-size="7.268" text-anchor="middle" textLength="9.56" lengthAdjust="spacingAndGlyphs">2.0</text>
<text x="448.00" y="455.32" font-size="7.268" text-anchor="middle" textLength="9.56" lengthAdjust="spacingAndGlyphs">2.5</text>
<text x="469.90" y="455.32" font-size="7.268" text-anchor="middle" textLength="9.56" lengthAdjust="spacingAndGlyphs">3.0</text>
<text x="491.90" y="455.32" font-size="7.268" text-anchor="middle" textLength="9.56" lengthAdjust="spacingAndGlyphs">3.5</text>
<text x="513.80" y="455.32" font-size="7.268" text-anchor="middle" textLength="9.56" lengthAdjust="spacingAndGlyphs">4.0</text>
<text x="516.00" y="463.72" font-size="7.268" text-anchor="middle" textLength="34.20" lengthAdjust="spacingAndGlyphs">Rich factor</text>
<text x="522.30" y="288.82" font-size="7.268" text-anchor="start" textLength="20.39" lengthAdjust="spacingAndGlyphs">pvalue</text>
<rect x="522.1" y="295.1" width="7.00" height="41.20" fill="url(#cbar)"/>
<text x="530.20" y="338.32" font-size="7.268" text-anchor="start" textLength="13.39" lengthAdjust="spacingAndGlyphs">0.00</text>
<text x="530.20" y="328.47" font-size="7.268" text-anchor="start" textLength="13.39" lengthAdjust="spacingAndGlyphs">0.25</text>
<text x="530.20" y="318.62" font-size="7.268" text-anchor="start" textLength="13.39" lengthAdjust="spacingAndGlyphs">0.50</text>
<text x="530.20" y="308.77" font-size="7.268" text-anchor="start" textLength="13.39" lengthAdjust="spacingAndGlyphs">0.75</text>
<text x="530.20" y="298.92" font-size="7.268" text-anchor="start" textLength="13.39" lengthAdjust="spacingAndGlyphs">1.00</text>
<text x="522.30" y="352.62" font-size="7.268" text-anchor="start" textLength="18.70" lengthAdjust="spacingAndGlyphs">Count</text>
<circle cx="525.4" cy="359.1" r="1.20" fill="#000"/>
<text x="530.20" y="362.02" font-size="7.268" text-anchor="start" textLength="7.65" lengthAdjust="spacingAndGlyphs">50</text>
<circle cx="525.4" cy="368.5" r="2.40" fill="#000"/>
<text x="530.20" y="371.42" font-size="7.268" text-anchor="start" textLength="11.47" lengthAdjust="spacingAndGlyphs">100</text>
<text x="6.9" y="484.9" font-size="10.4" font-weight="bold" fill="#000">E</text>
<g stroke="#f2f2f2" stroke-width="0.5"><line x1="139.0" y1="483.40" x2="247.6" y2="483.40"/><line x1="139.0" y1="493.52" x2="247.6" y2="493.52"/><line x1="139.0" y1="503.64" x2="247.6" y2="503.64"/><line x1="139.0" y1="513.76" x2="247.6" y2="513.76"/><line x1="139.0" y1="523.88" x2="247.6" y2="523.88"/><line x1="139.0" y1="534.00" x2="247.6" y2="534.00"/><line x1="139.0" y1="544.12" x2="247.6" y2="544.12"/><line x1="139.0" y1="554.24" x2="247.6" y2="554.24"/><line x1="139.0" y1="564.36" x2="247.6" y2="564.36"/><line x1="139.0" y1="574.48" x2="247.6" y2="574.48"/><line x1="139.0" y1="584.60" x2="247.6" y2="584.60"/><line x1="139.0" y1="594.72" x2="247.6" y2="594.72"/><line x1="139.0" y1="604.84" x2="247.6" y2="604.84"/><line x1="139.0" y1="614.96" x2="247.6" y2="614.96"/><line x1="139.0" y1="625.08" x2="247.6" y2="625.08"/><line x1="139.0" y1="635.20" x2="247.6" y2="635.20"/><line x1="139.0" y1="645.32" x2="247.6" y2="645.32"/><line x1="139.0" y1="655.44" x2="247.6" y2="655.44"/><line x1="139.0" y1="665.56" x2="247.6" y2="665.56"/><line x1="139.0" y1="675.68" x2="247.6" y2="675.68"/><line x1="159.5" y1="477.33" x2="159.5" y2="681.75"/><line x1="189.7" y1="477.33" x2="189.7" y2="681.75"/><line x1="219.9" y1="477.33" x2="219.9" y2="681.75"/></g>
<g stroke="#f8f8f8" stroke-width="0.4"><line x1="144.4" y1="477.33" x2="144.4" y2="681.75"/><line x1="174.6" y1="477.33" x2="174.6" y2="681.75"/><line x1="204.8" y1="477.33" x2="204.8" y2="681.75"/><line x1="235.0" y1="477.33" x2="235.0" y2="681.75"/></g>
<circle cx="150.9" cy="483.40" r="1.05" fill="#ff9a48"/>
<circle cx="143.9" cy="493.52" r="1.55" fill="#ff5808"/>
<circle cx="163.8" cy="503.64" r="1.05" fill="#dcb49a"/>
<circle cx="164.0" cy="513.76" r="1.00" fill="#ff9a98"/>
<circle cx="164.0" cy="523.88" r="1.00" fill="#ffa070"/>
<circle cx="164.7" cy="534.00" r="1.00" fill="#ffa080"/>
<circle cx="165.4" cy="544.12" r="0.95" fill="#ff9a60"/>
<circle cx="154.0" cy="554.24" r="1.20" fill="#ff6a20"/>
<circle cx="242.6" cy="564.36" r="0.75" fill="#ffc090"/>
<circle cx="154.8" cy="574.48" r="1.10" fill="#ff7030"/>
<circle cx="145.5" cy="584.60" r="1.45" fill="#ff3010"/>
<circle cx="163.2" cy="594.72" r="1.00" fill="#ff6030"/>
<circle cx="152.9" cy="604.84" r="1.20" fill="#ff3010"/>
<circle cx="160.6" cy="614.96" r="1.00" fill="#ff4020"/>
<circle cx="152.4" cy="625.08" r="1.30" fill="#ff2010"/>
<circle cx="163.7" cy="635.20" r="1.05" fill="#ff3020"/>
<circle cx="174.8" cy="645.32" r="1.00" fill="#ff3020"/>
<circle cx="176.9" cy="655.44" r="1.00" fill="#ff2010"/>
<circle cx="148.7" cy="665.56" r="2.35" fill="#ff0000"/>
<circle cx="163.5" cy="675.68" r="1.65" fill="#ff0000"/>
<rect x="139.0" y="477.33" width="108.60" height="204.42" fill="none" stroke="#9a9a9a" stroke-width="0.7"/>
<g stroke="#444" stroke-width="0.6"><line x1="137.50" y1="483.40" x2="138.70" y2="483.40"/><line x1="137.50" y1="493.52" x2="138.70" y2="493.52"/><line x1="137.50" y1="503.64" x2="138.70" y2="503.64"/><line x1="137.50" y1="513.76" x2="138.70" y2="513.76"/><line x1="137.50" y1="523.88" x2="138.70" y2="523.88"/><line x1="137.50" y1="534.00" x2="138.70" y2="534.00"/><line x1="137.50" y1="544.12" x2="138.70" y2="544.12"/><line x1="137.50" y1="554.24" x2="138.70" y2="554.24"/><line x1="137.50" y1="564.36" x2="138.70" y2="564.36"/><line x1="137.50" y1="574.48" x2="138.70" y2="574.48"/><line x1="137.50" y1="584.60" x2="138.70" y2="584.60"/><line x1="137.50" y1="594.72" x2="138.70" y2="594.72"/><line x1="137.50" y1="604.84" x2="138.70" y2="604.84"/><line x1="137.50" y1="614.96" x2="138.70" y2="614.96"/><line x1="137.50" y1="625.08" x2="138.70" y2="625.08"/><line x1="137.50" y1="635.20" x2="138.70" y2="635.20"/><line x1="137.50" y1="645.32" x2="138.70" y2="645.32"/><line x1="137.50" y1="655.44" x2="138.70" y2="655.44"/><line x1="137.50" y1="665.56" x2="138.70" y2="665.56"/><line x1="137.50" y1="675.68" x2="138.70" y2="675.68"/><line x1="159.5" y1="681.75" x2="159.5" y2="683.35"/><line x1="189.7" y1="681.75" x2="189.7" y2="683.35"/><line x1="219.9" y1="681.75" x2="219.9" y2="683.35"/></g>
<text x="29.30" y="485.82" font-size="7.268" text-anchor="start" textLength="105.70" lengthAdjust="spacingAndGlyphs">Fructose and mannose metabolism</text>
<text x="89.10" y="495.94" font-size="7.268" text-anchor="start" textLength="45.90" lengthAdjust="spacingAndGlyphs">RNA transport</text>
<text x="63.10" y="506.06" font-size="7.268" text-anchor="start" textLength="71.90" lengthAdjust="spacingAndGlyphs">Propanoate metabolism</text>
<text x="14.50" y="516.18" font-size="7.268" text-anchor="start" textLength="120.50" lengthAdjust="spacingAndGlyphs">Various types of N-glycan biosynthesis</text>
<text x="69.20" y="526.30" font-size="7.268" text-anchor="start" textLength="65.80" lengthAdjust="spacingAndGlyphs">Nitrogen metabolism</text>
<text x="45.30" y="536.42" font-size="7.268" text-anchor="start" textLength="89.70" lengthAdjust="spacingAndGlyphs">Arachidonic acid metabolism</text>
<text x="78.40" y="546.54" font-size="7.268" text-anchor="start" textLength="56.60" lengthAdjust="spacingAndGlyphs">Sulfur metabolism</text>
<text x="57.30" y="556.66" font-size="7.268" text-anchor="start" textLength="77.70" lengthAdjust="spacingAndGlyphs">Other glycan degradation</text>
<text x="22.40" y="566.78" font-size="7.268" text-anchor="start" textLength="112.60" lengthAdjust="spacingAndGlyphs">Taurine and hypotaurine metabolism</text>
<text x="67.40" y="576.90" font-size="7.268" text-anchor="start" textLength="67.60" lengthAdjust="spacingAndGlyphs">Fatty acid metabolism</text>
<text x="75.10" y="587.02" font-size="7.268" text-anchor="start" textLength="59.90" lengthAdjust="spacingAndGlyphs">Carbon metabolism</text>
<text x="75.60" y="597.14" font-size="7.268" text-anchor="start" textLength="59.40" lengthAdjust="spacingAndGlyphs">Zeatin biosynthesis</text>
<text x="45.30" y="607.26" font-size="7.268" text-anchor="start" textLength="89.70" lengthAdjust="spacingAndGlyphs">mRNA surveillance pathway</text>
<text x="50.10" y="617.38" font-size="7.268" text-anchor="start" textLength="84.90" lengthAdjust="spacingAndGlyphs">Pentose phosphate pathway</text>
<text x="61.60" y="627.50" font-size="7.268" text-anchor="start" textLength="73.40" lengthAdjust="spacingAndGlyphs">Glutathione metabolism</text>
<text x="58.00" y="637.62" font-size="7.268" text-anchor="start" textLength="77.00" lengthAdjust="spacingAndGlyphs">Sphingolipid metabolism</text>
<text x="59.00" y="647.74" font-size="7.268" text-anchor="start" textLength="76.00" lengthAdjust="spacingAndGlyphs">Diterpenoid biosynthesis</text>
<text x="17.30" y="657.86" font-size="7.268" text-anchor="start" textLength="117.70" lengthAdjust="spacingAndGlyphs">Porphyrin and chlorophyll metabolism</text>
<text x="6.90" y="667.98" font-size="7.268" text-anchor="start" textLength="128.10" lengthAdjust="spacingAndGlyphs">Protein processing in endoplasmic reticulum</text>
<text x="67.40" y="678.10" font-size="7.268" text-anchor="start" textLength="67.60" lengthAdjust="spacingAndGlyphs">Galactose metabolism</text>
<text x="159.50" y="692.02" font-size="7.268" text-anchor="middle" textLength="3.83" lengthAdjust="spacingAndGlyphs">4</text>
<text x="189.70" y="692.02" font-size="7.268" text-anchor="middle" textLength="3.83" lengthAdjust="spacingAndGlyphs">8</text>
<text x="219.90" y="692.02" font-size="7.268" text-anchor="middle" textLength="7.65" lengthAdjust="spacingAndGlyphs">12</text>
<text x="189.80" y="699.42" font-size="7.268" text-anchor="middle" textLength="34.20" lengthAdjust="spacingAndGlyphs">Rich factor</text>
<text x="250.20" y="524.42" font-size="7.268" text-anchor="start" textLength="20.39" lengthAdjust="spacingAndGlyphs">pvalue</text>
<rect x="250.1" y="531.0" width="6.20" height="40.90" fill="url(#cbar)"/>
<text x="258.40" y="573.92" font-size="7.268" text-anchor="start" textLength="13.39" lengthAdjust="spacingAndGlyphs">0.00</text>
<text x="258.40" y="564.15" font-size="7.268" text-anchor="start" textLength="13.39" lengthAdjust="spacingAndGlyphs">0.25</text>
<text x="258.40" y="554.37" font-size="7.268" text-anchor="start" textLength="13.39" lengthAdjust="spacingAndGlyphs">0.50</text>
<text x="258.40" y="544.60" font-size="7.268" text-anchor="start" textLength="13.39" lengthAdjust="spacingAndGlyphs">0.75</text>
<text x="258.40" y="534.82" font-size="7.268" text-anchor="start" textLength="13.39" lengthAdjust="spacingAndGlyphs">1.00</text>
<text x="250.20" y="588.22" font-size="7.268" text-anchor="start" textLength="18.70" lengthAdjust="spacingAndGlyphs">Count</text>
<circle cx="252.8" cy="594.4" r="0.80" fill="#000"/>
<text x="258.40" y="597.32" font-size="7.268" text-anchor="start" textLength="3.83" lengthAdjust="spacingAndGlyphs">4</text>
<circle cx="252.8" cy="602.9" r="1.45" fill="#000"/>
<text x="258.40" y="605.82" font-size="7.268" text-anchor="start" textLength="3.83" lengthAdjust="spacingAndGlyphs">8</text>
<circle cx="252.8" cy="611.4" r="2.25" fill="#000"/>
<text x="258.40" y="614.32" font-size="7.268" text-anchor="start" textLength="7.65" lengthAdjust="spacingAndGlyphs">12</text>
<circle cx="252.8" cy="619.9" r="2.85" fill="#000"/>
<text x="258.40" y="622.82" font-size="7.268" text-anchor="start" textLength="7.65" lengthAdjust="spacingAndGlyphs">16</text>
<text x="277.7" y="484.9" font-size="10.4" font-weight="bold" fill="#000">F</text>
<g stroke="#f2f2f2" stroke-width="0.5"><line x1="411.4" y1="483.40" x2="519.3" y2="483.40"/><line x1="411.4" y1="493.52" x2="519.3" y2="493.52"/><line x1="411.4" y1="503.64" x2="519.3" y2="503.64"/><line x1="411.4" y1="513.76" x2="519.3" y2="513.76"/><line x1="411.4" y1="523.88" x2="519.3" y2="523.88"/><line x1="411.4" y1="534.00" x2="519.3" y2="534.00"/><line x1="411.4" y1="544.12" x2="519.3" y2="544.12"/><line x1="411.4" y1="554.24" x2="519.3" y2="554.24"/><line x1="411.4" y1="564.36" x2="519.3" y2="564.36"/><line x1="411.4" y1="574.48" x2="519.3" y2="574.48"/><line x1="411.4" y1="584.60" x2="519.3" y2="584.60"/><line x1="411.4" y1="594.72" x2="519.3" y2="594.72"/><line x1="411.4" y1="604.84" x2="519.3" y2="604.84"/><line x1="411.4" y1="614.96" x2="519.3" y2="614.96"/><line x1="411.4" y1="625.08" x2="519.3" y2="625.08"/><line x1="411.4" y1="635.20" x2="519.3" y2="635.20"/><line x1="411.4" y1="645.32" x2="519.3" y2="645.32"/><line x1="411.4" y1="655.44" x2="519.3" y2="655.44"/><line x1="411.4" y1="665.56" x2="519.3" y2="665.56"/><line x1="411.4" y1="675.68" x2="519.3" y2="675.68"/><line x1="424.6" y1="477.33" x2="424.6" y2="681.75"/><line x1="443.4" y1="477.33" x2="443.4" y2="681.75"/><line x1="462.2" y1="477.33" x2="462.2" y2="681.75"/><line x1="481.0" y1="477.33" x2="481.0" y2="681.75"/><line x1="499.8" y1="477.33" x2="499.8" y2="681.75"/><line x1="518.6" y1="477.33" x2="518.6" y2="681.75"/></g>
<g stroke="#f8f8f8" stroke-width="0.4"><line x1="415.2" y1="477.33" x2="415.2" y2="681.75"/><line x1="434.0" y1="477.33" x2="434.0" y2="681.75"/><line x1="452.8" y1="477.33" x2="452.8" y2="681.75"/><line x1="471.6" y1="477.33" x2="471.6" y2="681.75"/><line x1="490.4" y1="477.33" x2="490.4" y2="681.75"/><line x1="509.2" y1="477.33" x2="509.2" y2="681.75"/></g>
<circle cx="421.6" cy="483.40" r="0.90" fill="#ff8040"/>
<circle cx="434.8" cy="493.52" r="0.85" fill="#ff9090"/>
<circle cx="429.0" cy="503.64" r="1.05" fill="#ff7070"/>
<circle cx="429.0" cy="513.76" r="1.05" fill="#ff4040"/>
<circle cx="461.7" cy="523.88" r="0.75" fill="#ff9080"/>
<circle cx="416.1" cy="534.00" r="1.45" fill="#ff0000"/>
<circle cx="455.1" cy="544.12" r="0.75" fill="#ff6060"/>
<circle cx="508.3" cy="554.24" r="0.75" fill="#ffa090"/>
<circle cx="422.9" cy="564.36" r="1.25" fill="#ff0000"/>
<circle cx="420.3" cy="574.48" r="1.40" fill="#ff0000"/>
<circle cx="446.4" cy="584.60" r="0.85" fill="#ff2020"/>
<circle cx="467.2" cy="594.72" r="0.80" fill="#ff2020"/>
<circle cx="437.4" cy="604.84" r="1.15" fill="#ff0000"/>
<circle cx="471.4" cy="614.96" r="0.80" fill="#ff2020"/>
<circle cx="443.8" cy="625.08" r="1.20" fill="#ff0000"/>
<circle cx="434.3" cy="635.20" r="1.50" fill="#ff0000"/>
<circle cx="429.5" cy="645.32" r="2.35" fill="#ff0000"/>
<circle cx="471.2" cy="655.44" r="1.50" fill="#ff0000"/>
<circle cx="499.4" cy="665.56" r="1.25" fill="#ff0000"/>
<circle cx="514.9" cy="675.68" r="1.20" fill="#ff0000"/>
<rect x="411.4" y="477.33" width="107.90" height="204.42" fill="none" stroke="#9a9a9a" stroke-width="0.7"/>
<g stroke="#444" stroke-width="0.6"><line x1="409.90" y1="483.40" x2="411.10" y2="483.40"/><line x1="409.90" y1="493.52" x2="411.10" y2="493.52"/><line x1="409.90" y1="503.64" x2="411.10" y2="503.64"/><line x1="409.90" y1="513.76" x2="411.10" y2="513.76"/><line x1="409.90" y1="523.88" x2="411.10" y2="523.88"/><line x1="409.90" y1="534.00" x2="411.10" y2="534.00"/><line x1="409.90" y1="544.12" x2="411.10" y2="544.12"/><line x1="409.90" y1="554.24" x2="411.10" y2="554.24"/><line x1="409.90" y1="564.36" x2="411.10" y2="564.36"/><line x1="409.90" y1="574.48" x2="411.10" y2="574.48"/><line x1="409.90" y1="584.60" x2="411.10" y2="584.60"/><line x1="409.90" y1="594.72" x2="411.10" y2="594.72"/><line x1="409.90" y1="604.84" x2="411.10" y2="604.84"/><line x1="409.90" y1="614.96" x2="411.10" y2="614.96"/><line x1="409.90" y1="625.08" x2="411.10" y2="625.08"/><line x1="409.90" y1="635.20" x2="411.10" y2="635.20"/><line x1="409.90" y1="645.32" x2="411.10" y2="645.32"/><line x1="409.90" y1="655.44" x2="411.10" y2="655.44"/><line x1="409.90" y1="665.56" x2="411.10" y2="665.56"/><line x1="409.90" y1="675.68" x2="411.10" y2="675.68"/><line x1="424.6" y1="681.75" x2="424.6" y2="683.35"/><line x1="443.4" y1="681.75" x2="443.4" y2="683.35"/><line x1="462.2" y1="681.75" x2="462.2" y2="683.35"/><line x1="481.0" y1="681.75" x2="481.0" y2="683.35"/><line x1="499.8" y1="681.75" x2="499.8" y2="683.35"/><line x1="518.6" y1="681.75" x2="518.6" y2="683.35"/></g>
<text x="330.50" y="485.82" font-size="7.268" text-anchor="start" textLength="77.00" lengthAdjust="spacingAndGlyphs">Sphingolipid metabolism</text>
<text x="306.00" y="495.94" font-size="7.268" text-anchor="start" textLength="101.50" lengthAdjust="spacingAndGlyphs">Terpenoid backbone biosynthesis</text>
<text x="283.10" y="502.41" font-size="7.268" text-anchor="start" textLength="124.40" lengthAdjust="spacingAndGlyphs">Ubiquinone and other terpenoid-quinone</text>
<text x="283.10" y="509.11" font-size="7.268" text-anchor="start" textLength="37.74" lengthAdjust="spacingAndGlyphs">biosynthesis</text>
<text x="322.60" y="516.18" font-size="7.268" text-anchor="start" textLength="84.90" lengthAdjust="spacingAndGlyphs">Pentose phosphate pathway</text>
<text x="320.80" y="526.30" font-size="7.268" text-anchor="start" textLength="86.70" lengthAdjust="spacingAndGlyphs">Monoterpenoid biosynthesis</text>
<text x="317.70" y="536.42" font-size="7.268" text-anchor="start" textLength="89.80" lengthAdjust="spacingAndGlyphs">Glycolysis / Gluconeogenesis</text>
<text x="303.50" y="546.54" font-size="7.268" text-anchor="start" textLength="104.00" lengthAdjust="spacingAndGlyphs">Flavone and flavonol biosynthesis</text>
<text x="287.20" y="553.01" font-size="7.268" text-anchor="start" textLength="120.30" lengthAdjust="spacingAndGlyphs">Glycosphingolipid biosynthesis - globo</text>
<text x="287.20" y="559.71" font-size="7.268" text-anchor="start" textLength="58.55" lengthAdjust="spacingAndGlyphs">and isoglobo series</text>
<text x="331.50" y="566.78" font-size="7.268" text-anchor="start" textLength="76.00" lengthAdjust="spacingAndGlyphs">Glycerolipid metabolism</text>
<text x="334.80" y="576.90" font-size="7.268" text-anchor="start" textLength="72.70" lengthAdjust="spacingAndGlyphs">Glutathione metabolism</text>
<text x="279.60" y="587.02" font-size="7.268" text-anchor="start" textLength="127.90" lengthAdjust="spacingAndGlyphs">Valine, leucine and isoleucine degradation</text>
<text x="333.50" y="597.14" font-size="7.268" text-anchor="start" textLength="74.00" lengthAdjust="spacingAndGlyphs">Carotenoid biosynthesis</text>
<text x="280.10" y="607.26" font-size="7.268" text-anchor="start" textLength="127.40" lengthAdjust="spacingAndGlyphs">Glyoxylate and dicarboxylate metabolism</text>
<text x="289.80" y="617.38" font-size="7.268" text-anchor="start" textLength="117.70" lengthAdjust="spacingAndGlyphs">Porphyrin and chlorophyll metabolism</text>
<text x="343.20" y="627.50" font-size="7.268" text-anchor="start" textLength="64.30" lengthAdjust="spacingAndGlyphs">Pyruvate metabolism</text>
<text x="339.90" y="637.62" font-size="7.268" text-anchor="start" textLength="67.60" lengthAdjust="spacingAndGlyphs">Galactose metabolism</text>
<text x="347.50" y="647.74" font-size="7.268" text-anchor="start" textLength="60.00" lengthAdjust="spacingAndGlyphs">Carbon metabolism</text>
<text x="362.00" y="657.86" font-size="7.268" text-anchor="start" textLength="45.50" lengthAdjust="spacingAndGlyphs">Photosynthesis</text>
<text x="278.00" y="667.98" font-size="7.268" text-anchor="start" textLength="129.50" lengthAdjust="spacingAndGlyphs">Carbon fixation in photosynthetic organisms</text>
<text x="329.20" y="678.10" font-size="7.268" text-anchor="start" textLength="78.30" lengthAdjust="spacingAndGlyphs">Isoflavonoid biosynthesis</text>
<text x="424.60" y="691.72" font-size="7.268" text-anchor="middle" textLength="9.56" lengthAdjust="spacingAndGlyphs">2.0</text>
<text x="443.40" y="691.72" font-size="7.268" text-anchor="middle" textLength="9.56" lengthAdjust="spacingAndGlyphs">2.5</text>
<text x="462.20" y="691.72" font-size="7.268" text-anchor="middle" textLength="9.56" lengthAdjust="spacingAndGlyphs">3.0</text>
<text x="481.00" y="691.72" font-size="7.268" text-anchor="middle" textLength="9.56" lengthAdjust="spacingAndGlyphs">3.5</text>
<text x="499.80" y="691.72" font-size="7.268" text-anchor="middle" textLength="9.56" lengthAdjust="spacingAndGlyphs">4.0</text>
<text x="518.60" y="691.72" font-size="7.268" text-anchor="middle" textLength="9.56" lengthAdjust="spacingAndGlyphs">4.5</text>
<text x="518.80" y="699.62" font-size="7.268" text-anchor="middle" textLength="34.20" lengthAdjust="spacingAndGlyphs">Rich factor</text>
<text x="522.30" y="526.82" font-size="7.268" text-anchor="start" textLength="20.39" lengthAdjust="spacingAndGlyphs">pvalue</text>
<rect x="522.3" y="532.7" width="6.80" height="40.90" fill="url(#cbar)"/>
<text x="530.20" y="575.62" font-size="7.268" text-anchor="start" textLength="13.39" lengthAdjust="spacingAndGlyphs">0.00</text>
<text x="530.20" y="565.85" font-size="7.268" text-anchor="start" textLength="13.39" lengthAdjust="spacingAndGlyphs">0.25</text>
<text x="530.20" y="556.07" font-size="7.268" text-anchor="start" textLength="13.39" lengthAdjust="spacingAndGlyphs">0.50</text>
<text x="530.20" y="546.30" font-size="7.268" text-anchor="start" textLength="13.39" lengthAdjust="spacingAndGlyphs">0.75</text>
<text x="530.20" y="536.52" font-size="7.268" text-anchor="start" textLength="13.39" lengthAdjust="spacingAndGlyphs">1.00</text>
<text x="522.30" y="589.42" font-size="7.268" text-anchor="start" textLength="18.70" lengthAdjust="spacingAndGlyphs">Count</text>
<circle cx="525.5" cy="596.2" r="0.80" fill="#000"/>
<text x="530.20" y="599.12" font-size="7.268" text-anchor="start" textLength="7.65" lengthAdjust="spacingAndGlyphs">10</text>
<circle cx="525.5" cy="604.8" r="1.40" fill="#000"/>
<text x="530.20" y="607.72" font-size="7.268" text-anchor="start" textLength="7.65" lengthAdjust="spacingAndGlyphs">20</text>
<circle cx="525.5" cy="613.3" r="2.15" fill="#000"/>
<text x="530.20" y="616.22" font-size="7.268" text-anchor="start" textLength="7.65" lengthAdjust="spacingAndGlyphs">30</text>
<circle cx="525.5" cy="621.7" r="2.90" fill="#000"/>
<text x="530.20" y="624.62" font-size="7.268" text-anchor="start" textLength="7.65" lengthAdjust="spacingAndGlyphs">40</text>
</svg></body></html>
